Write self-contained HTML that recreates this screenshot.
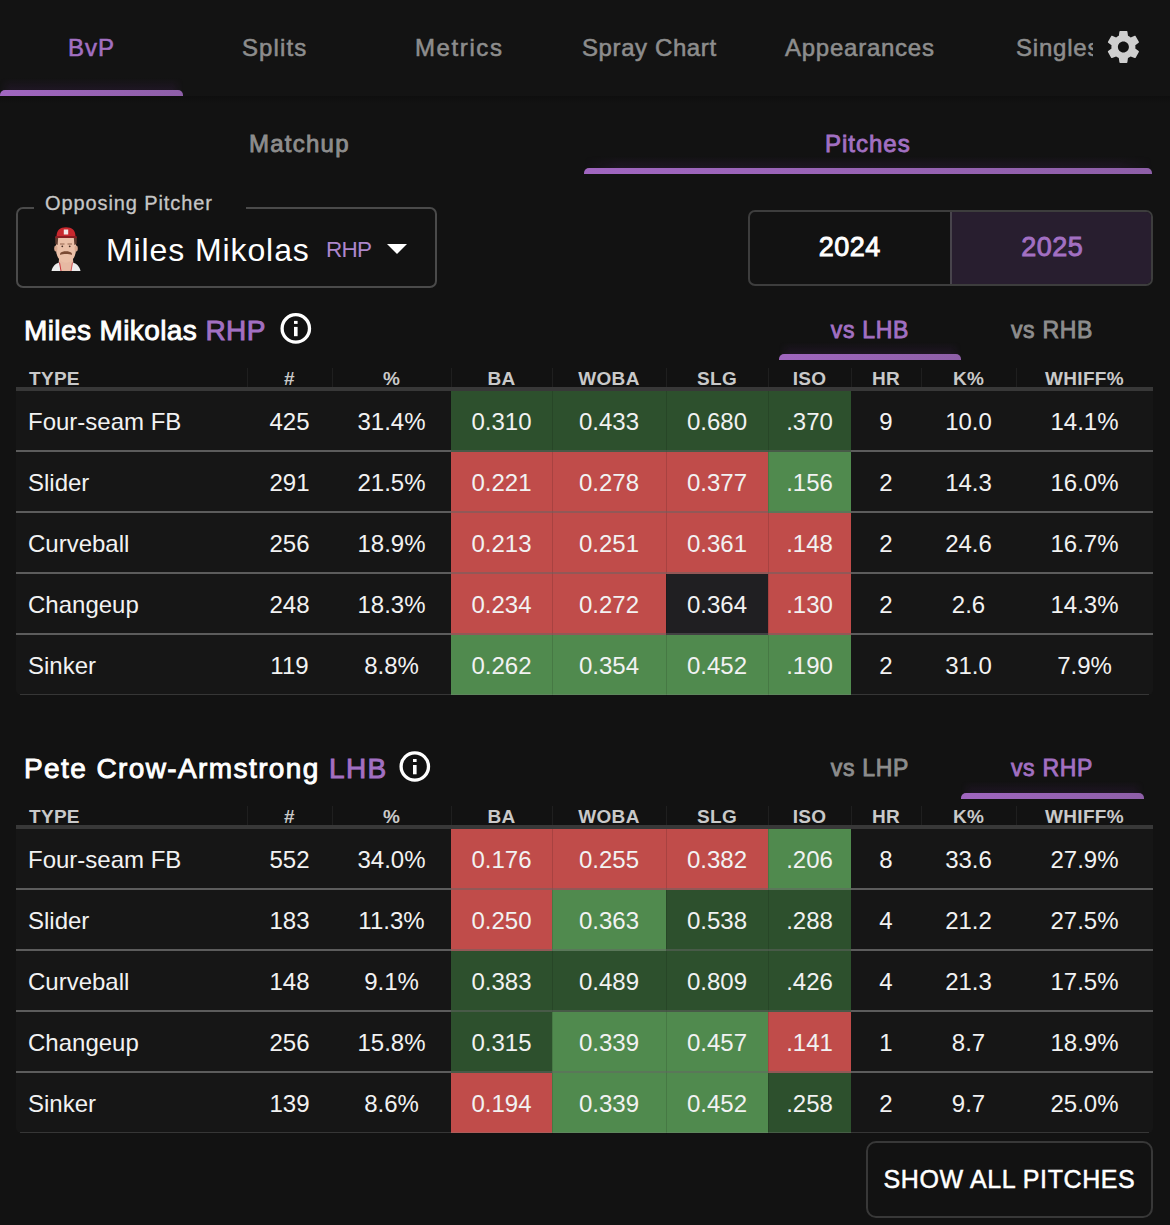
<!DOCTYPE html>
<html><head><meta charset="utf-8"><style>
html,body{margin:0;padding:0}
body{width:1170px;height:1225px;overflow:hidden;background:#121212;position:relative;font-family:"Liberation Sans", sans-serif;color:#fff}
.a{position:absolute;white-space:nowrap}
.nav{position:absolute;left:0;top:0;width:1170px;height:96px;background:#131313}
.navsh{position:absolute;left:0;top:96px;width:1170px;height:8px;background:linear-gradient(#0e0e0e,#121212)}
.tab{position:absolute;top:31px;height:34px;line-height:34px;font-size:24px;color:#8d8d8d;white-space:nowrap;-webkit-text-stroke:0.55px currentColor}
.ul{position:absolute;height:6px;border-radius:5px 5px 0 0;background:linear-gradient(90deg,#a066c0,#8e5fa8)}
.glow{position:absolute;height:12px;background:linear-gradient(rgba(90,40,120,0),rgba(90,40,120,0.17));-webkit-mask-image:linear-gradient(90deg,transparent,#000 6%,#000 94%,transparent)}
.th{position:absolute;height:22px;line-height:22px;font-size:19px;font-weight:bold;color:#c9c9c9;letter-spacing:0.3px;white-space:nowrap}
.c{text-align:center}
.hsep{position:absolute;width:1px;height:19px;background:#1f1f1f}
.hb{position:absolute;left:16px;width:1137px;height:4px;background:#383838}
.tb{position:absolute;left:16px;width:1137px;background:#161616;border-radius:0 0 5px 5px}
.bg{position:absolute;height:61px}
.csep{position:absolute;width:1px;height:61px;background:rgba(0,0,0,0.12)}
.td{position:absolute;height:59px;line-height:61px;font-size:24px;color:#f2f2f2;white-space:nowrap}
.rl{position:absolute;height:2px;background:#5c5c5c}
.rlc{position:absolute;height:2px;background:rgba(100,100,100,0.5)}
.rlb{position:absolute;left:20px;width:1129px;height:1px;background:rgba(128,128,128,0.3)}
.ic{position:absolute}
.h2{position:absolute;font-size:28px;-webkit-text-stroke:0.9px currentColor;color:#fff;white-space:nowrap;height:34px;line-height:34px}
</style></head><body>
<div class="nav"></div>
<div class="navsh"></div>
<div class="tab" style="letter-spacing:1.0px;left:68px;color:#a270c2">BvP</div>
<div class="tab" style="letter-spacing:1.1px;left:242px">Splits</div>
<div class="tab" style="letter-spacing:1.6px;left:415px">Metrics</div>
<div class="tab" style="letter-spacing:0.6px;left:582px">Spray Chart</div>
<div class="tab" style="letter-spacing:0.75px;left:785px">Appearances</div>
<div class="tab" style="letter-spacing:0.8px;left:1016px;width:77px;overflow:hidden">Singles</div>
<svg style="position:absolute;left:1103px;top:27px" width="40" height="40" viewBox="0 0 24 24" transform="translate(0.4,-0.1)"><path fill="#cfcfcf" d="M19.14,12.94c0.04-0.3,0.06-0.61,0.06-0.94c0-0.32-0.02-0.64-0.07-0.94l2.03-1.58c0.18-0.14,0.23-0.41,0.12-0.61 l-1.92-3.32c-0.12-0.22-0.37-0.29-0.59-0.22l-2.39,0.96c-0.5-0.38-1.03-0.7-1.62-0.94L14.4,2.81c-0.04-0.24-0.24-0.41-0.48-0.41 h-3.84c-0.24,0-0.43,0.17-0.47,0.41L9.25,5.35C8.66,5.59,8.12,5.92,7.63,6.29L5.24,5.33c-0.22-0.08-0.47,0-0.59,0.22L2.74,8.87 C2.62,9.08,2.66,9.34,2.86,9.48l2.03,1.58C4.84,11.36,4.8,11.69,4.8,12s0.02,0.64,0.07,0.94l-2.03,1.58 c-0.18,0.14-0.23,0.41-0.12,0.61l1.92,3.32c0.12,0.22,0.37,0.29,0.59,0.22l2.39-0.96c0.5,0.38,1.03,0.7,1.62,0.94l0.36,2.54 c0.05,0.24,0.24,0.41,0.48,0.41h3.84c0.24,0,0.44-0.17,0.47-0.41l0.36-2.54c0.59-0.24,1.13-0.56,1.62-0.94l2.39,0.96 c0.22,0.08,0.47,0,0.59-0.22l1.92-3.32c0.12-0.22,0.07-0.47-0.12-0.61L19.14,12.94z M12,15.3c-1.82,0-3.3-1.48-3.3-3.3s1.48-3.3,3.3-3.3s3.3,1.48,3.3,3.3S13.82,15.3,12,15.3z"/></svg>
<div class="glow" style="left:0;top:78px;width:183px"></div>
<div class="ul" style="left:0;top:90px;width:183px"></div>

<div class="tab" style="-webkit-text-stroke:0.85px currentColor;letter-spacing:1.25px;left:249px;top:127px;color:#8d8d8d">Matchup</div>
<div class="tab" style="-webkit-text-stroke:0.85px currentColor;letter-spacing:1.0px;left:825px;top:127px;color:#a270c2">Pitches</div>
<div class="glow" style="left:584px;top:156px;width:568px"></div>
<div class="ul" style="left:584px;top:168px;width:568px"></div>

<div style="position:absolute;left:16px;top:207px;width:417px;height:77px;border:2px solid #4a4a4a;border-radius:7px"></div>
<div style="position:absolute;left:34px;top:200px;width:212px;height:12px;background:#121212"></div>
<div class="a" style="left:45px;top:190px;font-size:20px;line-height:26px;color:#c6c6c6;letter-spacing:0.9px;-webkit-text-stroke:0.3px currentColor">Opposing Pitcher</div>
<svg style="position:absolute;left:48px;top:224px" width="36" height="48" viewBox="0 0 36 48">
<path d="M11 35 L25 35 L26 47 L10 47 Z" fill="#e7b9a3"/>
<path d="M3.5 47 C4.5 42 7.5 39.5 11.5 38.5 L13 47 Z" fill="#ececec"/>
<path d="M32.5 47 C31.5 42 28.5 39.5 24.5 38.5 L23 47 Z" fill="#ececec"/>
<path d="M11.5 38.5 L13 47" stroke="#c8343a" stroke-width="1"/>
<path d="M24.5 38.5 L23 47" stroke="#c8343a" stroke-width="0.8"/>
<path d="M8 16 C8 13 9.5 12 18 12 C26.5 12 28 13 28 16 L28 25 C28 32 24.5 38.5 18 38.8 C11.5 38.5 8 32 8 25 Z" fill="#ebc0a8"/>
<ellipse cx="7.8" cy="24.5" rx="1.6" ry="3" fill="#d9a88f"/>
<ellipse cx="28.2" cy="24.5" rx="1.6" ry="3" fill="#d9a88f"/>
<path d="M7.2 13.5 L10.2 13.5 L9.6 21 L7.4 20 Z" fill="#5e3a2e"/>
<path d="M28.8 13.5 L25.8 13.5 L26.4 21 L28.6 20 Z" fill="#5e3a2e"/>
<path d="M8.5 13 C8.5 6 12 3.2 18 3.2 C24 3.2 27.5 6 27.5 13 Z" fill="#c8282e"/>
<path d="M7.5 12 L28.5 12 L29 14 L7 14 Z" fill="#8a1d22"/>
<path d="M15.8 5.5 h4.4 v5 h-4.4 z" fill="#f2e6e6"/>
<path d="M12.3 29 C14.5 26.6 21.5 26.6 23.7 29 L24 31 C21 29.8 15 29.8 12 31 Z" fill="#7b4a33"/>
<path d="M12 20 h4.5 M19.5 20 h4.5" stroke="#8a5a44" stroke-width="0.9"/>
<circle cx="14.3" cy="22.3" r="0.9" fill="#4a3026"/><circle cx="21.7" cy="22.3" r="0.9" fill="#4a3026"/>
</svg>
<div class="a" style="left:106px;top:231px;font-size:32px;line-height:38px;color:#fff;letter-spacing:0.9px">Miles Mikolas</div>
<div class="a" style="left:326px;top:237px;font-size:22.5px;line-height:26px;color:#ad86cc;letter-spacing:-0.8px">RHP</div>
<svg style="position:absolute;left:387px;top:244px" width="20" height="11" viewBox="0 0 20 11"><path d="M0 0 L20 0 L10 10 Z" fill="#fff"/></svg>

<div style="position:absolute;left:748px;top:210px;width:401px;height:72px;border:2px solid #3d3d3d;border-radius:7px;overflow:hidden">
 <div style="position:absolute;left:200px;top:0;width:201px;height:72px;background:#281e2f;border-left:2px solid #48444c"></div>
</div>
<div class="a" style="left:748px;width:203px;text-align:center;top:230px;font-size:27px;line-height:34px;color:#fff;letter-spacing:0.5px;text-indent:0.5px;-webkit-text-stroke:0.9px currentColor">2024</div>
<div class="a" style="left:951px;width:202px;text-align:center;top:230px;font-size:27px;line-height:34px;color:#a270c2;letter-spacing:0.5px;text-indent:0.5px;-webkit-text-stroke:0.9px currentColor">2025</div>

<div class="h2" style="left:24px;top:314px;letter-spacing:0.4px">Miles Mikolas <span style="color:#a270c2">RHP</span></div>
<svg class="ic" style="left:280px;top:312px" width="32" height="32" viewBox="0 0 32 32"><circle cx="15.800000000000011" cy="16.399999999999977" r="13.7" fill="none" stroke="#fff" stroke-width="3.3"/><rect x="14.00000000000001" y="8.899999999999977" width="3.6" height="3" fill="#fff"/><rect x="14.00000000000001" y="14.899999999999977" width="3.6" height="9.3" fill="#fff"/></svg>
<div class="tab" style="-webkit-text-stroke:0.85px currentColor;letter-spacing:0.7px;left:779px;width:182px;text-align:center;top:313px;font-size:23px;color:#a270c2">vs LHB</div>
<div class="tab" style="-webkit-text-stroke:0.85px currentColor;letter-spacing:0.7px;left:961px;width:182px;text-align:center;top:313px;font-size:23px;color:#8d8d8d">vs RHB</div>
<div class="glow" style="left:779px;top:342px;width:182px"></div>
<div class="ul" style="left:779px;top:354px;width:182px"></div>
<div class="hsep" style="left:247px;top:368px"></div>
<div class="hsep" style="left:332px;top:368px"></div>
<div class="hsep" style="left:451px;top:368px"></div>
<div class="hsep" style="left:552px;top:368px"></div>
<div class="hsep" style="left:666px;top:368px"></div>
<div class="hsep" style="left:768px;top:368px"></div>
<div class="hsep" style="left:851px;top:368px"></div>
<div class="hsep" style="left:921px;top:368px"></div>
<div class="hsep" style="left:1016px;top:368px"></div>
<div class="th" style="left:29px;top:368px">TYPE</div>
<div class="th c" style="left:247px;width:85px;top:368px">#</div>
<div class="th c" style="left:332px;width:119px;top:368px">%</div>
<div class="th c" style="left:451px;width:101px;top:368px">BA</div>
<div class="th c" style="left:552px;width:114px;top:368px">WOBA</div>
<div class="th c" style="left:666px;width:102px;top:368px">SLG</div>
<div class="th c" style="left:768px;width:83px;top:368px">ISO</div>
<div class="th c" style="left:851px;width:70px;top:368px">HR</div>
<div class="th c" style="left:921px;width:95px;top:368px">K%</div>
<div class="th c" style="left:1016px;width:137px;top:368px">WHIFF%</div>
<div class="hb" style="top:387px"></div>
<div class="tb" style="top:391px;height:304px"></div>
<div class="td" style="left:28px;top:391px">Four-seam FB</div>
<div class="td c" style="left:247px;width:85px;top:391px">425</div>
<div class="td c" style="left:332px;width:119px;top:391px">31.4%</div>
<div class="bg" style="left:451px;width:101px;top:391px;height:61px;background:#2d502d"></div>
<div class="td c" style="left:451px;width:101px;top:391px">0.310</div>
<div class="bg" style="left:552px;width:114px;top:391px;height:61px;background:#2d502d"></div>
<div class="csep" style="left:552px;top:391px"></div>
<div class="td c" style="left:552px;width:114px;top:391px">0.433</div>
<div class="bg" style="left:666px;width:102px;top:391px;height:61px;background:#2d502d"></div>
<div class="csep" style="left:666px;top:391px"></div>
<div class="td c" style="left:666px;width:102px;top:391px">0.680</div>
<div class="bg" style="left:768px;width:83px;top:391px;height:61px;background:#2d502d"></div>
<div class="csep" style="left:768px;top:391px"></div>
<div class="td c" style="left:768px;width:83px;top:391px">.370</div>
<div class="td c" style="left:851px;width:70px;top:391px">9</div>
<div class="td c" style="left:921px;width:95px;top:391px">10.0</div>
<div class="td c" style="left:1016px;width:137px;top:391px">14.1%</div>
<div class="rl" style="left:16px;width:435px;top:450px"></div>
<div class="rl" style="left:851px;width:302px;top:450px"></div>
<div class="rlc" style="left:451px;width:400px;top:450px"></div>
<div class="td" style="left:28px;top:452px">Slider</div>
<div class="td c" style="left:247px;width:85px;top:452px">291</div>
<div class="td c" style="left:332px;width:119px;top:452px">21.5%</div>
<div class="bg" style="left:451px;width:101px;top:452px;height:61px;background:#c04c4a"></div>
<div class="td c" style="left:451px;width:101px;top:452px">0.221</div>
<div class="bg" style="left:552px;width:114px;top:452px;height:61px;background:#c04c4a"></div>
<div class="csep" style="left:552px;top:452px"></div>
<div class="td c" style="left:552px;width:114px;top:452px">0.278</div>
<div class="bg" style="left:666px;width:102px;top:452px;height:61px;background:#c04c4a"></div>
<div class="csep" style="left:666px;top:452px"></div>
<div class="td c" style="left:666px;width:102px;top:452px">0.377</div>
<div class="bg" style="left:768px;width:83px;top:452px;height:61px;background:#508a4e"></div>
<div class="csep" style="left:768px;top:452px"></div>
<div class="td c" style="left:768px;width:83px;top:452px">.156</div>
<div class="td c" style="left:851px;width:70px;top:452px">2</div>
<div class="td c" style="left:921px;width:95px;top:452px">14.3</div>
<div class="td c" style="left:1016px;width:137px;top:452px">16.0%</div>
<div class="rl" style="left:16px;width:435px;top:511px"></div>
<div class="rl" style="left:851px;width:302px;top:511px"></div>
<div class="rlc" style="left:451px;width:400px;top:511px"></div>
<div class="td" style="left:28px;top:513px">Curveball</div>
<div class="td c" style="left:247px;width:85px;top:513px">256</div>
<div class="td c" style="left:332px;width:119px;top:513px">18.9%</div>
<div class="bg" style="left:451px;width:101px;top:513px;height:61px;background:#c04c4a"></div>
<div class="td c" style="left:451px;width:101px;top:513px">0.213</div>
<div class="bg" style="left:552px;width:114px;top:513px;height:61px;background:#c04c4a"></div>
<div class="csep" style="left:552px;top:513px"></div>
<div class="td c" style="left:552px;width:114px;top:513px">0.251</div>
<div class="bg" style="left:666px;width:102px;top:513px;height:61px;background:#c04c4a"></div>
<div class="csep" style="left:666px;top:513px"></div>
<div class="td c" style="left:666px;width:102px;top:513px">0.361</div>
<div class="bg" style="left:768px;width:83px;top:513px;height:61px;background:#c04c4a"></div>
<div class="csep" style="left:768px;top:513px"></div>
<div class="td c" style="left:768px;width:83px;top:513px">.148</div>
<div class="td c" style="left:851px;width:70px;top:513px">2</div>
<div class="td c" style="left:921px;width:95px;top:513px">24.6</div>
<div class="td c" style="left:1016px;width:137px;top:513px">16.7%</div>
<div class="rl" style="left:16px;width:435px;top:572px"></div>
<div class="rl" style="left:851px;width:302px;top:572px"></div>
<div class="rlc" style="left:451px;width:400px;top:572px"></div>
<div class="td" style="left:28px;top:574px">Changeup</div>
<div class="td c" style="left:247px;width:85px;top:574px">248</div>
<div class="td c" style="left:332px;width:119px;top:574px">18.3%</div>
<div class="bg" style="left:451px;width:101px;top:574px;height:61px;background:#c04c4a"></div>
<div class="td c" style="left:451px;width:101px;top:574px">0.234</div>
<div class="bg" style="left:552px;width:114px;top:574px;height:61px;background:#c04c4a"></div>
<div class="csep" style="left:552px;top:574px"></div>
<div class="td c" style="left:552px;width:114px;top:574px">0.272</div>
<div class="bg" style="left:666px;width:102px;top:574px;height:61px;background:#201f22"></div>
<div class="csep" style="left:666px;top:574px"></div>
<div class="td c" style="left:666px;width:102px;top:574px">0.364</div>
<div class="bg" style="left:768px;width:83px;top:574px;height:61px;background:#c04c4a"></div>
<div class="csep" style="left:768px;top:574px"></div>
<div class="td c" style="left:768px;width:83px;top:574px">.130</div>
<div class="td c" style="left:851px;width:70px;top:574px">2</div>
<div class="td c" style="left:921px;width:95px;top:574px">2.6</div>
<div class="td c" style="left:1016px;width:137px;top:574px">14.3%</div>
<div class="rl" style="left:16px;width:435px;top:633px"></div>
<div class="rl" style="left:851px;width:302px;top:633px"></div>
<div class="rlc" style="left:451px;width:400px;top:633px"></div>
<div class="td" style="left:28px;top:635px">Sinker</div>
<div class="td c" style="left:247px;width:85px;top:635px">119</div>
<div class="td c" style="left:332px;width:119px;top:635px">8.8%</div>
<div class="bg" style="left:451px;width:101px;top:635px;height:60px;background:#508a4e"></div>
<div class="td c" style="left:451px;width:101px;top:635px">0.262</div>
<div class="bg" style="left:552px;width:114px;top:635px;height:60px;background:#508a4e"></div>
<div class="csep" style="left:552px;top:635px"></div>
<div class="td c" style="left:552px;width:114px;top:635px">0.354</div>
<div class="bg" style="left:666px;width:102px;top:635px;height:60px;background:#508a4e"></div>
<div class="csep" style="left:666px;top:635px"></div>
<div class="td c" style="left:666px;width:102px;top:635px">0.452</div>
<div class="bg" style="left:768px;width:83px;top:635px;height:60px;background:#508a4e"></div>
<div class="csep" style="left:768px;top:635px"></div>
<div class="td c" style="left:768px;width:83px;top:635px">.190</div>
<div class="td c" style="left:851px;width:70px;top:635px">2</div>
<div class="td c" style="left:921px;width:95px;top:635px">31.0</div>
<div class="td c" style="left:1016px;width:137px;top:635px">7.9%</div>
<div class="rlb" style="top:694px"></div>

<div class="h2" style="left:24px;top:752px;letter-spacing:1.4px">Pete Crow-Armstrong <span style="color:#a270c2">LHB</span></div>
<svg class="ic" style="left:399px;top:750px" width="32" height="32" viewBox="0 0 32 32"><circle cx="15.800000000000011" cy="16.5" r="13.7" fill="none" stroke="#fff" stroke-width="3.3"/><rect x="14.00000000000001" y="9.0" width="3.6" height="3" fill="#fff"/><rect x="14.00000000000001" y="15.0" width="3.6" height="9.3" fill="#fff"/></svg>
<div class="tab" style="-webkit-text-stroke:0.85px currentColor;letter-spacing:0.7px;left:779px;width:182px;text-align:center;top:751px;font-size:23px;color:#8d8d8d">vs LHP</div>
<div class="tab" style="-webkit-text-stroke:0.85px currentColor;letter-spacing:0.7px;left:961px;width:182px;text-align:center;top:751px;font-size:23px;color:#a270c2">vs RHP</div>
<div class="glow" style="left:961px;top:781px;width:183px"></div>
<div class="ul" style="left:961px;top:793px;width:183px"></div>
<div class="hsep" style="left:247px;top:806px"></div>
<div class="hsep" style="left:332px;top:806px"></div>
<div class="hsep" style="left:451px;top:806px"></div>
<div class="hsep" style="left:552px;top:806px"></div>
<div class="hsep" style="left:666px;top:806px"></div>
<div class="hsep" style="left:768px;top:806px"></div>
<div class="hsep" style="left:851px;top:806px"></div>
<div class="hsep" style="left:921px;top:806px"></div>
<div class="hsep" style="left:1016px;top:806px"></div>
<div class="th" style="left:29px;top:806px">TYPE</div>
<div class="th c" style="left:247px;width:85px;top:806px">#</div>
<div class="th c" style="left:332px;width:119px;top:806px">%</div>
<div class="th c" style="left:451px;width:101px;top:806px">BA</div>
<div class="th c" style="left:552px;width:114px;top:806px">WOBA</div>
<div class="th c" style="left:666px;width:102px;top:806px">SLG</div>
<div class="th c" style="left:768px;width:83px;top:806px">ISO</div>
<div class="th c" style="left:851px;width:70px;top:806px">HR</div>
<div class="th c" style="left:921px;width:95px;top:806px">K%</div>
<div class="th c" style="left:1016px;width:137px;top:806px">WHIFF%</div>
<div class="hb" style="top:825px"></div>
<div class="tb" style="top:829px;height:304px"></div>
<div class="td" style="left:28px;top:829px">Four-seam FB</div>
<div class="td c" style="left:247px;width:85px;top:829px">552</div>
<div class="td c" style="left:332px;width:119px;top:829px">34.0%</div>
<div class="bg" style="left:451px;width:101px;top:829px;height:61px;background:#c04c4a"></div>
<div class="td c" style="left:451px;width:101px;top:829px">0.176</div>
<div class="bg" style="left:552px;width:114px;top:829px;height:61px;background:#c04c4a"></div>
<div class="csep" style="left:552px;top:829px"></div>
<div class="td c" style="left:552px;width:114px;top:829px">0.255</div>
<div class="bg" style="left:666px;width:102px;top:829px;height:61px;background:#c04c4a"></div>
<div class="csep" style="left:666px;top:829px"></div>
<div class="td c" style="left:666px;width:102px;top:829px">0.382</div>
<div class="bg" style="left:768px;width:83px;top:829px;height:61px;background:#508a4e"></div>
<div class="csep" style="left:768px;top:829px"></div>
<div class="td c" style="left:768px;width:83px;top:829px">.206</div>
<div class="td c" style="left:851px;width:70px;top:829px">8</div>
<div class="td c" style="left:921px;width:95px;top:829px">33.6</div>
<div class="td c" style="left:1016px;width:137px;top:829px">27.9%</div>
<div class="rl" style="left:16px;width:435px;top:888px"></div>
<div class="rl" style="left:851px;width:302px;top:888px"></div>
<div class="rlc" style="left:451px;width:400px;top:888px"></div>
<div class="td" style="left:28px;top:890px">Slider</div>
<div class="td c" style="left:247px;width:85px;top:890px">183</div>
<div class="td c" style="left:332px;width:119px;top:890px">11.3%</div>
<div class="bg" style="left:451px;width:101px;top:890px;height:61px;background:#c04c4a"></div>
<div class="td c" style="left:451px;width:101px;top:890px">0.250</div>
<div class="bg" style="left:552px;width:114px;top:890px;height:61px;background:#508a4e"></div>
<div class="csep" style="left:552px;top:890px"></div>
<div class="td c" style="left:552px;width:114px;top:890px">0.363</div>
<div class="bg" style="left:666px;width:102px;top:890px;height:61px;background:#2d502d"></div>
<div class="csep" style="left:666px;top:890px"></div>
<div class="td c" style="left:666px;width:102px;top:890px">0.538</div>
<div class="bg" style="left:768px;width:83px;top:890px;height:61px;background:#2d502d"></div>
<div class="csep" style="left:768px;top:890px"></div>
<div class="td c" style="left:768px;width:83px;top:890px">.288</div>
<div class="td c" style="left:851px;width:70px;top:890px">4</div>
<div class="td c" style="left:921px;width:95px;top:890px">21.2</div>
<div class="td c" style="left:1016px;width:137px;top:890px">27.5%</div>
<div class="rl" style="left:16px;width:435px;top:949px"></div>
<div class="rl" style="left:851px;width:302px;top:949px"></div>
<div class="rlc" style="left:451px;width:400px;top:949px"></div>
<div class="td" style="left:28px;top:951px">Curveball</div>
<div class="td c" style="left:247px;width:85px;top:951px">148</div>
<div class="td c" style="left:332px;width:119px;top:951px">9.1%</div>
<div class="bg" style="left:451px;width:101px;top:951px;height:61px;background:#2d502d"></div>
<div class="td c" style="left:451px;width:101px;top:951px">0.383</div>
<div class="bg" style="left:552px;width:114px;top:951px;height:61px;background:#2d502d"></div>
<div class="csep" style="left:552px;top:951px"></div>
<div class="td c" style="left:552px;width:114px;top:951px">0.489</div>
<div class="bg" style="left:666px;width:102px;top:951px;height:61px;background:#2d502d"></div>
<div class="csep" style="left:666px;top:951px"></div>
<div class="td c" style="left:666px;width:102px;top:951px">0.809</div>
<div class="bg" style="left:768px;width:83px;top:951px;height:61px;background:#2d502d"></div>
<div class="csep" style="left:768px;top:951px"></div>
<div class="td c" style="left:768px;width:83px;top:951px">.426</div>
<div class="td c" style="left:851px;width:70px;top:951px">4</div>
<div class="td c" style="left:921px;width:95px;top:951px">21.3</div>
<div class="td c" style="left:1016px;width:137px;top:951px">17.5%</div>
<div class="rl" style="left:16px;width:435px;top:1010px"></div>
<div class="rl" style="left:851px;width:302px;top:1010px"></div>
<div class="rlc" style="left:451px;width:400px;top:1010px"></div>
<div class="td" style="left:28px;top:1012px">Changeup</div>
<div class="td c" style="left:247px;width:85px;top:1012px">256</div>
<div class="td c" style="left:332px;width:119px;top:1012px">15.8%</div>
<div class="bg" style="left:451px;width:101px;top:1012px;height:61px;background:#2d502d"></div>
<div class="td c" style="left:451px;width:101px;top:1012px">0.315</div>
<div class="bg" style="left:552px;width:114px;top:1012px;height:61px;background:#508a4e"></div>
<div class="csep" style="left:552px;top:1012px"></div>
<div class="td c" style="left:552px;width:114px;top:1012px">0.339</div>
<div class="bg" style="left:666px;width:102px;top:1012px;height:61px;background:#508a4e"></div>
<div class="csep" style="left:666px;top:1012px"></div>
<div class="td c" style="left:666px;width:102px;top:1012px">0.457</div>
<div class="bg" style="left:768px;width:83px;top:1012px;height:61px;background:#c04c4a"></div>
<div class="csep" style="left:768px;top:1012px"></div>
<div class="td c" style="left:768px;width:83px;top:1012px">.141</div>
<div class="td c" style="left:851px;width:70px;top:1012px">1</div>
<div class="td c" style="left:921px;width:95px;top:1012px">8.7</div>
<div class="td c" style="left:1016px;width:137px;top:1012px">18.9%</div>
<div class="rl" style="left:16px;width:435px;top:1071px"></div>
<div class="rl" style="left:851px;width:302px;top:1071px"></div>
<div class="rlc" style="left:451px;width:400px;top:1071px"></div>
<div class="td" style="left:28px;top:1073px">Sinker</div>
<div class="td c" style="left:247px;width:85px;top:1073px">139</div>
<div class="td c" style="left:332px;width:119px;top:1073px">8.6%</div>
<div class="bg" style="left:451px;width:101px;top:1073px;height:60px;background:#c04c4a"></div>
<div class="td c" style="left:451px;width:101px;top:1073px">0.194</div>
<div class="bg" style="left:552px;width:114px;top:1073px;height:60px;background:#508a4e"></div>
<div class="csep" style="left:552px;top:1073px"></div>
<div class="td c" style="left:552px;width:114px;top:1073px">0.339</div>
<div class="bg" style="left:666px;width:102px;top:1073px;height:60px;background:#508a4e"></div>
<div class="csep" style="left:666px;top:1073px"></div>
<div class="td c" style="left:666px;width:102px;top:1073px">0.452</div>
<div class="bg" style="left:768px;width:83px;top:1073px;height:60px;background:#2d502d"></div>
<div class="csep" style="left:768px;top:1073px"></div>
<div class="td c" style="left:768px;width:83px;top:1073px">.258</div>
<div class="td c" style="left:851px;width:70px;top:1073px">2</div>
<div class="td c" style="left:921px;width:95px;top:1073px">9.7</div>
<div class="td c" style="left:1016px;width:137px;top:1073px">25.0%</div>
<div class="rlb" style="top:1132px"></div>

<div style="position:absolute;left:866px;top:1141px;width:283px;height:73px;border:2px solid #383838;border-radius:10px"></div>
<div class="a" style="left:866px;width:287px;text-align:center;top:1162px;font-size:25px;line-height:34px;color:#fff;letter-spacing:0.6px;-webkit-text-stroke:0.5px #fff">SHOW ALL PITCHES</div>
</body></html>
